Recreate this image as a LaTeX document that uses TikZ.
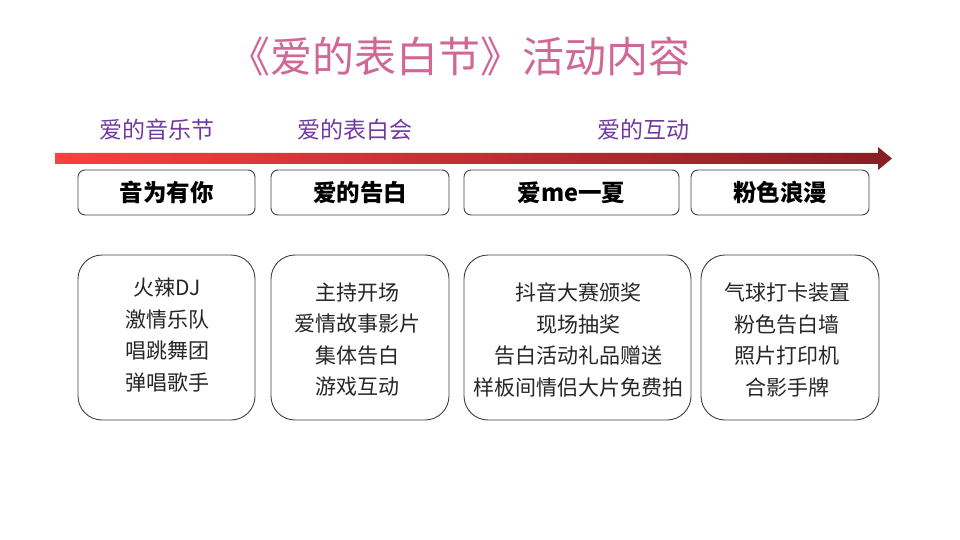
\documentclass[tikz,border=0pt]{standalone}
\usepackage{fontspec}
\newfontfamily\cjk{Noto Sans CJK SC}
\definecolor{titlepink}{RGB}{208,104,150}
\definecolor{labpurple}{RGB}{112,58,160}
\definecolor{arrL}{RGB}{245,66,66}
\definecolor{arrR}{RGB}{135,30,36}
\tikzset{
  topbox/.style={draw=black!75, line width=0.9pt, rounded corners=7pt, minimum height=45pt, inner sep=0pt, font=\cjk\bfseries\fontsize{23.5}{26}\selectfont},
  listbox/.style={draw=black!75, line width=0.9pt, rounded corners=24pt, minimum height=165pt, inner sep=0pt},
  listtext/.style={align=center, font=\cjk\fontsize{21}{31.5}\selectfont, text=black!85, inner sep=0pt},
  phase/.style={text=labpurple, font=\cjk\fontsize{23}{26}\selectfont, inner sep=0pt},
}
\begin{document}
\begin{tikzpicture}[x=1pt,y=-1pt]
\useasboundingbox (0,0) rectangle (960,540);
\node[text=titlepink, font=\cjk\fontsize{42}{46}\selectfont, inner sep=0pt] (title) at (459,57) {《爱的表白节》活动内容};
\node[phase] (p1) at (157,130) {爱的音乐节};
\node[phase] (p2) at (355,130) {爱的表白会};
\node[phase] (p3) at (643,130) {爱的互动};
\shade[left color=arrL, right color=arrR] (55,153) -- (878,153) -- (878,147) -- (892,158.5) -- (878,170) -- (878,164) -- (55,164) -- cycle;
\node[topbox, minimum width=177pt] (t1) at (166.5,192.5) {音为有你};
\node[topbox, minimum width=178pt] (t2) at (360,192.5) {爱的告白};
\node[topbox, minimum width=215pt] (t3) at (571.5,192.5) {爱me一夏};
\node[topbox, minimum width=178pt] (t4) at (780,192.5) {粉色浪漫};
\node[listbox, minimum width=177pt] (b1) at (166.5,337.5) {};
\node[listbox, minimum width=178pt] (b2) at (360,337.5) {};
\node[listbox, minimum width=227pt] (b3) at (577.5,337.5) {};
\node[listbox, minimum width=178pt] (b4) at (790,337.5) {};
\node[listtext] (l1) at (167,335) {火辣DJ\\激情乐队\\唱跳舞团\\弹唱歌手};
\node[listtext] (l2) at (357,339.5) {主持开场\\爱情故事影片\\集体告白\\游戏互动};
\node[listtext] (l3) at (578,340) {抖音大赛颁奖\\现场抽奖\\告白活动礼品赠送\\样板间情侣大片免费拍};
\node[listtext] (l4) at (787,340) {气球打卡装置\\粉色告白墙\\照片打印机\\合影手牌};
\end{tikzpicture}
\end{document}
